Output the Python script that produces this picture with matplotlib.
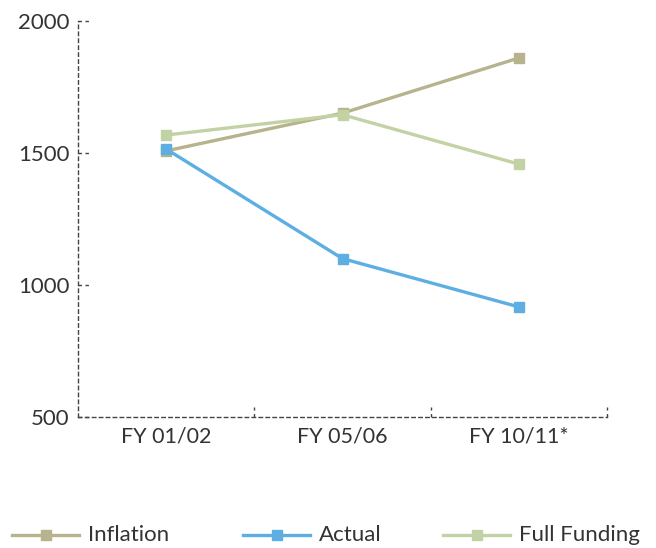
import matplotlib.pyplot as plt
from matplotlib.lines import Line2D

# --- data ---
categories = ["FY 01/02", "FY 05/06", "FY 10/11*"]
inflation = [1508, 1651, 1860]
actual = [1515, 1100, 917]
full_funding = [1568, 1645, 1458]
y_ticks = [500, 1000, 1500, 2000]
series_names = ["Inflation", "Actual", "Full Funding"]

c_infl = "#b7b38d"
c_act = "#5daee2"
c_full = "#c2d2a5"
c_axis = "#444444"
c_text = "#333333"

plt.rcParams["font.family"] = ["Lato", "DejaVu Sans"]

W, H = 656, 548
fig = plt.figure(figsize=(W / 100, H / 100), dpi=100)
ax = fig.add_axes([78 / W, 1 - 417 / H, (607 - 78) / W, (417 - 21) / H])

x = list(range(len(categories)))
style = dict(lw=2.4, marker="s", ms=7.5, solid_capstyle="butt")
ax.plot(x, inflation, color=c_infl, **style)
ax.plot(x, actual, color=c_act, **style)
ax.plot(x, full_funding, color=c_full, **style)

ax.set_xlim(-0.5, 2.5)
ax.set_ylim(500, 2000)

# dashed frame, left and bottom only
for side in ["top", "right"]:
    ax.spines[side].set_visible(False)
for side in ["left", "bottom"]:
    ax.spines[side].set_linestyle((0, (2.5, 2.5)))
    ax.spines[side].set_color(c_axis)
    ax.spines[side].set_linewidth(1.0)

# dashed tick marks drawn by hand (normal ticks can't be dashed)
ax.tick_params(length=0)
for yv in y_ticks:
    ax.plot([0, 12 / 529], [yv, yv], transform=ax.get_yaxis_transform(),
            color=c_axis, lw=1.0, ls=(0, (2.5, 2.5)), clip_on=False)
for xb in [0.5, 1.5, 2.5]:
    ax.plot([xb, xb], [0, 10 / 396], transform=ax.get_xaxis_transform(),
            color=c_axis, lw=1.0, ls=(0, (2.5, 2.5)), clip_on=False)

ax.set_yticks(y_ticks)
ax.set_yticklabels([str(v) for v in y_ticks])
ax.set_xticks(x)
ax.set_xticklabels(categories)
ax.tick_params(axis="y", pad=6, labelsize=16, labelcolor=c_text)
ax.tick_params(axis="x", pad=7, labelsize=15.5, labelcolor=c_text)

# legend along the bottom, placed by hand
colors = [c_infl, c_act, c_full]
starts = [12, 243, 443]
ly = 1 - 535 / H
for name, col, x0 in zip(series_names, colors, starts):
    fig.add_artist(Line2D([x0 / W, (x0 + 67) / W], [ly, ly], color=col, lw=2.4,
                          transform=fig.transFigure))
    fig.add_artist(Line2D([(x0 + 34) / W], [ly], color=col, marker="s", ms=7,
                          transform=fig.transFigure))
    fig.text((x0 + 76) / W, ly, name, fontsize=16, color=c_text,
             va="center", ha="left")

fig.savefig("out.png", dpi=100)
